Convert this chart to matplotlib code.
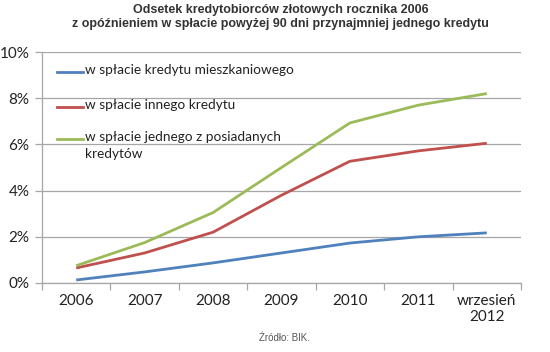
import matplotlib
matplotlib.use("Agg")
import matplotlib.pyplot as plt
from matplotlib.ticker import FuncFormatter

categories = ["2006", "2007", "2008", "2009", "2010", "2011", "wrzesień\n2012"]
mieszkaniowy = [0.13, 0.48, 0.87, 1.30, 1.73, 2.00, 2.17]
inny = [0.65, 1.30, 2.20, 3.80, 5.27, 5.72, 6.05]
jeden = [0.75, 1.75, 3.05, 5.00, 6.93, 7.70, 8.20]
series_labels = ["w spłacie kredytu mieszkaniowego",
                 "w spłacie innego kredytu",
                 "w spłacie jednego z posiadanych\nkredytów"]
yticks = [0, 2, 4, 6, 8, 10]

W, H = 550, 352
fig = plt.figure(figsize=(5.5, 3.52), dpi=100)
ax = fig.add_axes([42/W, 1-283/H, (521-42)/W, (283-52)/H])

x = list(range(len(categories)))
colors = ["#4F81BD", "#C0504D", "#9BBB59"]
for vals, lab, c in zip([mieszkaniowy, inny, jeden], series_labels, colors):
    ax.plot(x, vals, color=c, lw=2.0, label=lab, solid_capstyle="butt")

ax.set_xlim(-0.5, len(categories) - 0.5)
ax.set_ylim(0, 10)
ax.set_yticks(yticks)
ax.yaxis.set_major_formatter(FuncFormatter(lambda v, p: f"{v:.0f}%"))
ax.grid(axis="y", color="#A6A6A6", lw=0.9)
ax.set_axisbelow(True)
for s in ["top", "right"]:
    ax.spines[s].set_visible(False)
for s in ["left", "bottom"]:
    ax.spines[s].set_color("#A6A6A6")
    ax.spines[s].set_linewidth(0.9)

ax.set_xticks([i - 0.5 for i in range(len(categories) + 1)])
ax.set_xticklabels([])
ax.set_xticks(x, minor=True)
ax.set_xticklabels(categories, minor=True, fontsize=11, family="Lato", color="#222222")
ax.tick_params(axis="x", which="major", length=5, color="#A6A6A6", width=0.9)
ax.tick_params(axis="x", which="minor", length=0, pad=8)
ax.tick_params(axis="y", length=5, color="#A6A6A6", width=0.9, labelsize=11, pad=4, labelcolor="#222222")
for t in ax.get_yticklabels():
    t.set_family("Lato")

# manual legend (handle aligned with first text line, as in reference)
row_y = [72, 107, 139]
for lab, c, yy in zip(series_labels, colors, row_y):
    fy = 1 - yy / H
    fig.add_artist(plt.Line2D([57/W, 83/W], [fy, fy], color=c, lw=2.0,
                              transform=fig.transFigure))
    fig.text(85/W, 1 - (yy - 8) / H, lab, ha="left", va="top", fontsize=9.8,
             family="Lato", color="#222222", linespacing=1.5)

fig.text(0.51, 1-17/H, "Odsetek kredytobiorców złotowych rocznika 2006\nz opóźnieniem w spłacie powyżej 90 dni przynajmniej jednego kredytu",
         ha="center", va="center", fontsize=9, fontweight="bold", family="Liberation Sans",
         color="#333333", linespacing=1.25)
fig.text(0.518, 1-338/H, "Źródło: BIK.", ha="center", va="center", fontsize=7,
         family="Liberation Sans", color="#555555")

fig.savefig("out.png", dpi=100)
